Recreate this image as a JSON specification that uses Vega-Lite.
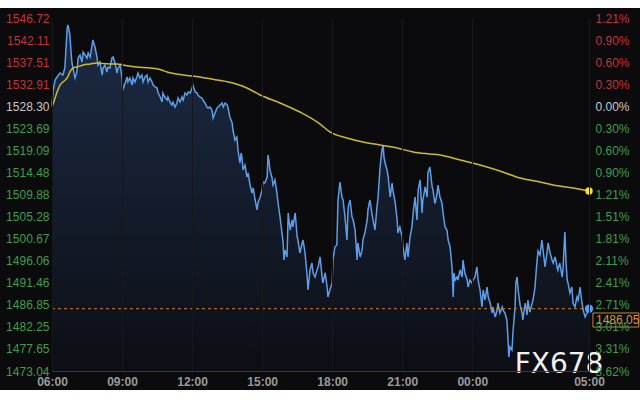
{
  "$schema": "https://vega.github.io/schema/vega-lite/v6.json",
  "width": 537,
  "height": 353,
  "autosize": "none",
  "padding": {"left": 52, "top": 18, "right": 51, "bottom": 29},
  "background": "#ffffff",
  "config": {"view": {"stroke": null}, "font": "Liberation Sans", "axis": {"zindex": 1}},
  "datasets": {
    "price": [
      {"m":0,"p":1528.56},{"m":3,"p":1531.69},{"m":8,"p":1533.78},{"m":13,"p":1534.41},{"m":21,"p":1535.24},{"m":28,"p":1534.82},{"m":33,"p":1536.28},{"m":39,"p":1544.63},{"m":41,"p":1545.26},{"m":46,"p":1543.17},{"m":49,"p":1539.62},{"m":51,"p":1537.54},{"m":54,"p":1536.28},{"m":59,"p":1534.2},{"m":64,"p":1535.45},{"m":67,"p":1538.37},{"m":72,"p":1539.0},{"m":77,"p":1537.54},{"m":80,"p":1539.62},{"m":85,"p":1539.0},{"m":90,"p":1538.37},{"m":93,"p":1539.41},{"m":98,"p":1538.58},{"m":103,"p":1541.08},{"m":105,"p":1542.13},{"m":111,"p":1540.46},{"m":116,"p":1538.37},{"m":118,"p":1536.91},{"m":123,"p":1537.54},{"m":129,"p":1534.82},{"m":131,"p":1536.28},{"m":136,"p":1536.91},{"m":141,"p":1535.45},{"m":144,"p":1536.49},{"m":149,"p":1536.28},{"m":154,"p":1538.37},{"m":157,"p":1538.58},{"m":162,"p":1537.33},{"m":167,"p":1535.24},{"m":170,"p":1536.28},{"m":175,"p":1536.91},{"m":180,"p":1534.2},{"m":182,"p":1531.69},{"m":188,"p":1533.15},{"m":193,"p":1534.41},{"m":195,"p":1533.36},{"m":200,"p":1534.2},{"m":206,"p":1532.74},{"m":208,"p":1534.2},{"m":213,"p":1533.36},{"m":218,"p":1534.41},{"m":221,"p":1535.24},{"m":226,"p":1534.2},{"m":231,"p":1534.82},{"m":234,"p":1533.36},{"m":239,"p":1534.41},{"m":244,"p":1534.82},{"m":247,"p":1533.36},{"m":252,"p":1534.2},{"m":257,"p":1533.36},{"m":260,"p":1532.74},{"m":265,"p":1532.32},{"m":270,"p":1532.11},{"m":272,"p":1531.27},{"m":278,"p":1530.23},{"m":283,"p":1529.19},{"m":285,"p":1531.07},{"m":290,"p":1530.23},{"m":296,"p":1529.6},{"m":298,"p":1530.23},{"m":303,"p":1529.19},{"m":308,"p":1528.56},{"m":311,"p":1529.19},{"m":316,"p":1528.14},{"m":321,"p":1528.98},{"m":324,"p":1530.02},{"m":329,"p":1529.19},{"m":334,"p":1530.23},{"m":337,"p":1529.6},{"m":342,"p":1531.07},{"m":347,"p":1530.65},{"m":350,"p":1531.27},{"m":355,"p":1531.07},{"m":360,"p":1532.11},{"m":362,"p":1532.74},{"m":368,"p":1531.27},{"m":373,"p":1531.07},{"m":375,"p":1530.65},{"m":380,"p":1530.23},{"m":385,"p":1530.02},{"m":388,"p":1529.6},{"m":393,"p":1528.98},{"m":398,"p":1528.14},{"m":401,"p":1527.93},{"m":406,"p":1528.14},{"m":411,"p":1527.52},{"m":414,"p":1525.85},{"m":419,"p":1526.89},{"m":424,"p":1527.93},{"m":427,"p":1528.14},{"m":432,"p":1528.56},{"m":437,"p":1528.98},{"m":440,"p":1528.14},{"m":445,"p":1528.98},{"m":450,"p":1528.56},{"m":452,"p":1528.14},{"m":457,"p":1526.06},{"m":463,"p":1524.8},{"m":465,"p":1523.34},{"m":470,"p":1521.26},{"m":475,"p":1521.88},{"m":478,"p":1519.17},{"m":483,"p":1516.45},{"m":486,"p":1518.54},{"m":488,"p":1517.71},{"m":491,"p":1514.99},{"m":496,"p":1516.04},{"m":501,"p":1513.53},{"m":504,"p":1514.37},{"m":509,"p":1511.86},{"m":514,"p":1510.19},{"m":517,"p":1511.24},{"m":522,"p":1508.73},{"m":527,"p":1506.65},{"m":529,"p":1508.11},{"m":535,"p":1509.36},{"m":540,"p":1510.82},{"m":542,"p":1512.49},{"m":547,"p":1512.28},{"m":553,"p":1513.53},{"m":555,"p":1518.12},{"m":558,"p":1516.66},{"m":560,"p":1514.99},{"m":565,"p":1513.53},{"m":568,"p":1511.86},{"m":573,"p":1512.91},{"m":578,"p":1510.19},{"m":581,"p":1508.11},{"m":586,"p":1505.18},{"m":591,"p":1501.84},{"m":594,"p":1499.76},{"m":596,"p":1496.21},{"m":599,"p":1498.3},{"m":604,"p":1496.84},{"m":607,"p":1506.02},{"m":612,"p":1502.47},{"m":617,"p":1504.56},{"m":619,"p":1503.1},{"m":625,"p":1506.02},{"m":630,"p":1501.01},{"m":632,"p":1500.38},{"m":637,"p":1497.67},{"m":643,"p":1499.76},{"m":645,"p":1500.38},{"m":650,"p":1497.88},{"m":655,"p":1493.5},{"m":658,"p":1489.95},{"m":663,"p":1494.12},{"m":668,"p":1495.58},{"m":671,"p":1493.5},{"m":676,"p":1492.66},{"m":681,"p":1494.12},{"m":684,"p":1494.75},{"m":689,"p":1496.84},{"m":694,"p":1492.66},{"m":696,"p":1491.41},{"m":702,"p":1493.5},{"m":707,"p":1490.57},{"m":709,"p":1488.49},{"m":714,"p":1489.95},{"m":720,"p":1491.41},{"m":722,"p":1496.21},{"m":727,"p":1498.92},{"m":732,"p":1499.34},{"m":735,"p":1508.73},{"m":740,"p":1512.49},{"m":745,"p":1509.36},{"m":748,"p":1508.73},{"m":753,"p":1505.18},{"m":758,"p":1500.38},{"m":761,"p":1507.27},{"m":766,"p":1508.73},{"m":771,"p":1505.18},{"m":774,"p":1504.56},{"m":779,"p":1502.47},{"m":784,"p":1496.21},{"m":786,"p":1499.76},{"m":792,"p":1496.84},{"m":797,"p":1498.3},{"m":799,"p":1500.38},{"m":804,"p":1501.84},{"m":810,"p":1504.56},{"m":812,"p":1506.65},{"m":817,"p":1508.73},{"m":822,"p":1506.02},{"m":825,"p":1504.56},{"m":830,"p":1502.47},{"m":835,"p":1507.27},{"m":838,"p":1509.36},{"m":843,"p":1515.62},{"m":848,"p":1519.17},{"m":851,"p":1520.21},{"m":853,"p":1517.71},{"m":856,"p":1516.45},{"m":861,"p":1514.99},{"m":864,"p":1513.53},{"m":869,"p":1509.36},{"m":874,"p":1512.28},{"m":876,"p":1510.82},{"m":882,"p":1508.11},{"m":887,"p":1504.56},{"m":889,"p":1501.84},{"m":894,"p":1503.1},{"m":900,"p":1501.01},{"m":902,"p":1498.92},{"m":907,"p":1496.21},{"m":912,"p":1499.76},{"m":915,"p":1496.84},{"m":920,"p":1501.01},{"m":925,"p":1503.1},{"m":928,"p":1506.02},{"m":933,"p":1509.36},{"m":938,"p":1504.56},{"m":941,"p":1510.82},{"m":946,"p":1512.91},{"m":951,"p":1506.02},{"m":953,"p":1508.73},{"m":959,"p":1511.45},{"m":964,"p":1509.36},{"m":966,"p":1514.37},{"m":971,"p":1515.62},{"m":977,"p":1511.45},{"m":979,"p":1510.82},{"m":984,"p":1508.0},{"m":989,"p":1509.77},{"m":992,"p":1511.86},{"m":997,"p":1509.36},{"m":1002,"p":1508.11},{"m":1005,"p":1506.02},{"m":1010,"p":1503.1},{"m":1015,"p":1502.47},{"m":1018,"p":1500.38},{"m":1023,"p":1498.92},{"m":1028,"p":1494.75},{"m":1031,"p":1488.49},{"m":1033,"p":1493.5},{"m":1036,"p":1492.03},{"m":1041,"p":1492.66},{"m":1043,"p":1492.03},{"m":1049,"p":1494.12},{"m":1054,"p":1492.66},{"m":1056,"p":1496.21},{"m":1061,"p":1493.5},{"m":1067,"p":1492.03},{"m":1069,"p":1490.57},{"m":1074,"p":1492.03},{"m":1079,"p":1491.41},{"m":1082,"p":1492.03},{"m":1087,"p":1492.66},{"m":1092,"p":1494.75},{"m":1095,"p":1492.03},{"m":1100,"p":1489.95},{"m":1105,"p":1486.4},{"m":1108,"p":1489.95},{"m":1113,"p":1487.86},{"m":1118,"p":1490.57},{"m":1121,"p":1488.49},{"m":1126,"p":1487.23},{"m":1131,"p":1485.15},{"m":1133,"p":1486.4},{"m":1139,"p":1484.31},{"m":1144,"p":1485.77},{"m":1146,"p":1487.23},{"m":1151,"p":1485.15},{"m":1157,"p":1486.4},{"m":1159,"p":1485.77},{"m":1164,"p":1485.15},{"m":1169,"p":1483.69},{"m":1172,"p":1479.51},{"m":1174,"p":1475.96},{"m":1177,"p":1478.05},{"m":1182,"p":1477.42},{"m":1185,"p":1481.6},{"m":1190,"p":1486.4},{"m":1192,"p":1491.41},{"m":1195,"p":1492.66},{"m":1198,"p":1489.95},{"m":1203,"p":1486.8},{"m":1208,"p":1485.15},{"m":1210,"p":1483.69},{"m":1216,"p":1487.23},{"m":1221,"p":1484.73},{"m":1223,"p":1487.86},{"m":1228,"p":1485.35},{"m":1234,"p":1487.23},{"m":1236,"p":1487.86},{"m":1241,"p":1490.36},{"m":1246,"p":1495.58},{"m":1249,"p":1498.09},{"m":1254,"p":1497.25},{"m":1259,"p":1500.38},{"m":1262,"p":1498.3},{"m":1267,"p":1494.75},{"m":1272,"p":1497.67},{"m":1275,"p":1499.76},{"m":1280,"p":1497.67},{"m":1285,"p":1496.21},{"m":1288,"p":1495.58},{"m":1293,"p":1496.84},{"m":1298,"p":1494.75},{"m":1300,"p":1494.12},{"m":1305,"p":1495.58},{"m":1311,"p":1492.66},{"m":1313,"p":1494.12},{"m":1318,"p":1502.05},{"m":1321,"p":1495.58},{"m":1324,"p":1492.03},{"m":1326,"p":1491.41},{"m":1331,"p":1489.32},{"m":1336,"p":1490.57},{"m":1339,"p":1487.23},{"m":1344,"p":1486.4},{"m":1349,"p":1488.49},{"m":1352,"p":1487.86},{"m":1357,"p":1490.57},{"m":1362,"p":1487.23},{"m":1365,"p":1485.77},{"m":1370,"p":1484.31},{"m":1375,"p":1485.15},{"m":1377,"p":1485.77},{"m":1380,"p":1486.05}
    ],
    "ma": [
      {"m":0,"v":1528.14},{"m":8,"v":1530.02},{"m":13,"v":1531.27},{"m":21,"v":1532.74},{"m":28,"v":1533.36},{"m":39,"v":1534.2},{"m":46,"v":1535.45},{"m":54,"v":1536.28},{"m":64,"v":1536.49},{"m":80,"v":1536.91},{"m":98,"v":1537.12},{"m":116,"v":1537.33},{"m":131,"v":1537.2},{"m":149,"v":1537.12},{"m":167,"v":1537.12},{"m":182,"v":1536.91},{"m":218,"v":1536.49},{"m":252,"v":1536.28},{"m":278,"v":1535.97},{"m":296,"v":1535.45},{"m":337,"v":1534.82},{"m":380,"v":1534.41},{"m":424,"v":1533.78},{"m":465,"v":1533.15},{"m":501,"v":1532.11},{"m":535,"v":1530.65},{"m":586,"v":1528.98},{"m":637,"v":1527.1},{"m":689,"v":1524.59},{"m":714,"v":1522.93},{"m":758,"v":1521.67},{"m":799,"v":1520.84},{"m":843,"v":1520.21},{"m":887,"v":1519.59},{"m":928,"v":1518.75},{"m":971,"v":1518.33},{"m":997,"v":1518.12},{"m":1049,"v":1517.08},{"m":1100,"v":1516.04},{"m":1151,"v":1514.79},{"m":1203,"v":1513.32},{"m":1254,"v":1512.49},{"m":1288,"v":1511.86},{"m":1339,"v":1511.24},{"m":1380,"v":1510.61}
    ]
  },
  "resolve": {"axis": {"x": "independent", "y": "independent"}},
  "layer": [
    {
      "data": {"values": [{}]},
      "mark": {"type": "rect", "color": "#0b0b0e", "clip": false},
      "encoding": {
        "x": {"datum": -140, "type": "quantitative", "scale": {"domain": [0, 1380], "nice": false, "zero": false}, "axis": null},
        "x2": {"datum": 1530},
        "y": {"datum": 1548.81, "type": "quantitative", "scale": {"domain": [1473.04, 1546.72], "nice": false, "zero": false}, "axis": null},
        "y2": {"datum": 1469.08}
      }
    },
    {
      "data": {"name": "price"},
      "mark": {"type": "area", "line": false, "clip": true, "color": {"gradient": "linear", "x1": 0, "y1": 0, "x2": 0, "y2": 1, "stops": [{"offset": 0, "color": "#1c2b45"}, {"offset": 1, "color": "#0c0e14"}]}},
      "encoding": {
        "x": {"field": "m", "type": "quantitative", "scale": {"domain": [0, 1380], "nice": false, "zero": false},
          "axis": {"title": null, "values": [0, 180, 360, 540, 720, 900, 1080, 1380], "labelExpr": "((floor(datum.value/60)+6)%24 < 10 ? '0' : '') + ((floor(datum.value/60)+6)%24) + ':00'", "tickSize": 0, "labelPadding": 5, "labelFontSize": 12, "labelFontWeight": "bold", "labelColor": "#9a9a9a", "grid": true, "gridColor": "#17181d", "domain": true, "domainColor": "#3a3a3a", "labelFlush": false, "labelOverlap": false, "zindex": 1}},
        "y": {"field": "p", "type": "quantitative", "scale": {"domain": [1473.04, 1546.72], "nice": false, "zero": false},
          "axis": {"orient": "left", "title": null, "values": [1473.04, 1477.65, 1482.25, 1486.85, 1491.46, 1496.06, 1500.67, 1505.28, 1509.88, 1514.48, 1519.09, 1523.69, 1528.3, 1532.91, 1537.51, 1542.11, 1546.72], "format": ".2f", "tickSize": 0, "labelPadding": 3, "labelFontSize": 12, "domain": false, "grid": false, "labelOverlap": false, "labelFlush": false,
            "labelColor": {"condition": [{"test": "datum.value > 1528.31", "value": "#c4313b"}, {"test": "datum.value < 1528.29", "value": "#3c9f48"}], "value": "#c9c9c9"}, "zindex": 1}},
        "y2": {"datum": 1473.04}
      }
    },
    {
      "data": {"name": "price"},
      "mark": {"type": "line", "color": "#5d9ee8", "strokeWidth": 1.5},
      "encoding": {
        "x": {"field": "m", "type": "quantitative", "scale": {"domain": [0, 1380], "nice": false, "zero": false}, "axis": null},
        "y": {"field": "p", "type": "quantitative", "scale": {"domain": [1473.04, 1546.72], "nice": false, "zero": false},
          "axis": {"orient": "right", "title": null, "values": [1473.04, 1477.65, 1482.25, 1486.85, 1491.46, 1496.06, 1500.67, 1505.28, 1509.88, 1514.48, 1519.09, 1523.69, 1528.3, 1532.91, 1537.51, 1542.11, 1546.72], "labelExpr": "format(abs(datum.value/1528.30-1)*100, '.2f') + '%'", "tickSize": 0, "labelPadding": 6, "labelFontSize": 12, "domain": false, "grid": false, "labelOverlap": false, "labelFlush": false,
            "labelColor": {"condition": [{"test": "datum.value > 1528.31", "value": "#c4313b"}, {"test": "datum.value < 1528.29", "value": "#3c9f48"}], "value": "#c9c9c9"}, "zindex": 1}}
      }
    },
    {
      "data": {"name": "ma"},
      "mark": {"type": "line", "color": "#cdbb2e", "strokeWidth": 1.5, "interpolate": "monotone"},
      "encoding": {
        "x": {"field": "m", "type": "quantitative", "scale": {"domain": [0, 1380], "nice": false, "zero": false}, "axis": null},
        "y": {"field": "v", "type": "quantitative", "scale": {"domain": [1473.04, 1546.72], "nice": false, "zero": false}, "axis": null}
      }
    },
    {
      "data": {"values": [{}]},
      "mark": {"type": "rule", "color": "#c5822e", "strokeDash": [3, 3], "strokeWidth": 1},
      "encoding": {
        "y": {"datum": 1486.05, "type": "quantitative", "scale": {"domain": [1473.04, 1546.72], "nice": false, "zero": false}, "axis": null}
      }
    },
    {
      "data": {"name": "ma"},
      "transform": [{"filter": "datum.m == 1380"}],
      "mark": {"type": "circle", "color": "#f3e23a", "size": 55, "opacity": 1},
      "encoding": {
        "x": {"field": "m", "type": "quantitative", "scale": {"domain": [0, 1380], "nice": false, "zero": false}, "axis": null},
        "y": {"field": "v", "type": "quantitative", "scale": {"domain": [1473.04, 1546.72], "nice": false, "zero": false}, "axis": null}
      }
    },
    {
      "data": {"name": "price"},
      "transform": [{"filter": "datum.m == 1380"}],
      "mark": {"type": "circle", "color": "#5aa0ee", "size": 70, "opacity": 1},
      "encoding": {
        "x": {"field": "m", "type": "quantitative", "scale": {"domain": [0, 1380], "nice": false, "zero": false}, "axis": null},
        "y": {"field": "p", "type": "quantitative", "scale": {"domain": [1473.04, 1546.72], "nice": false, "zero": false}, "axis": null}
      }
    },
    {
      "data": {"values": [{}]},
      "mark": {"type": "rect", "fill": "#0b0b0e", "stroke": "#c5822e", "strokeWidth": 1, "clip": false},
      "encoding": {
        "x": {"datum": 1390, "type": "quantitative", "scale": {"domain": [0, 1380], "nice": false, "zero": false}, "axis": null},
        "x2": {"datum": 1508},
        "y": {"datum": 1485.15, "type": "quantitative", "scale": {"domain": [1473.04, 1546.72], "nice": false, "zero": false}, "axis": null},
        "y2": {"datum": 1482.22}
      }
    },
    {
      "data": {"name": "price"},
      "transform": [{"filter": "datum.m == 1380"}],
      "mark": {"type": "text", "color": "#dc9240", "fontSize": 12, "align": "left", "baseline": "middle", "dx": 7, "dy": 11, "clip": false},
      "encoding": {
        "x": {"field": "m", "type": "quantitative", "scale": {"domain": [0, 1380], "nice": false, "zero": false}, "axis": null},
        "y": {"field": "p", "type": "quantitative", "scale": {"domain": [1473.04, 1546.72], "nice": false, "zero": false}, "axis": null},
        "text": {"field": "p", "type": "quantitative", "format": ".2f"}
      }
    },
    {
      "data": {"values": [{"label": "FX678"}]},
      "mark": {"type": "text", "color": "#f2f2f2", "fontSize": 28, "font": "DejaVu Sans", "align": "center", "baseline": "alphabetic", "dy": 2, "clip": false},
      "encoding": {
        "x": {"datum": 1303, "type": "quantitative", "scale": {"domain": [0, 1380], "nice": false, "zero": false}, "axis": null},
        "y": {"datum": 1473.04, "type": "quantitative", "scale": {"domain": [1473.04, 1546.72], "nice": false, "zero": false}, "axis": null},
        "text": {"field": "label"}
      }
    }
  ]
}
